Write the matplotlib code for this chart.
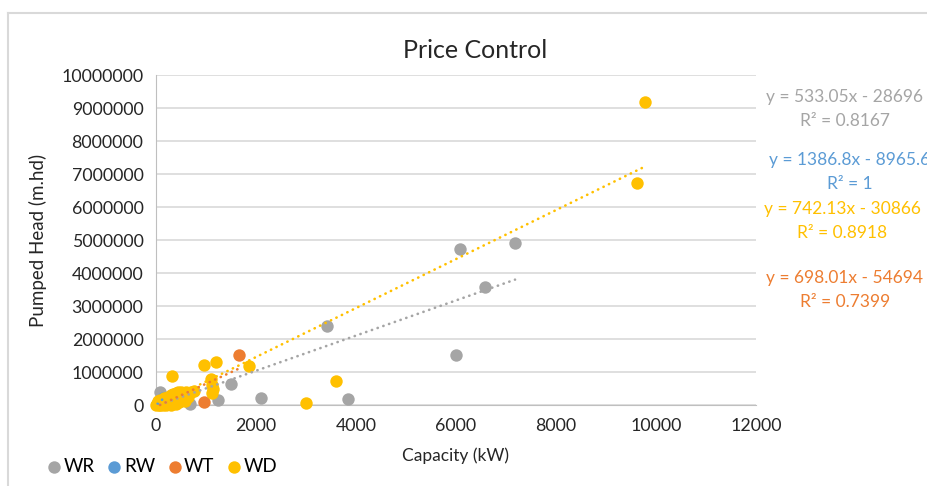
import matplotlib
matplotlib.use("Agg")
import matplotlib.pyplot as plt
from matplotlib.lines import Line2D
import numpy as np

plt.rcParams['font.family'] = ['Lato', 'DejaVu Sans']

# Данные (кВт, м.напора)
wr_x = [80, 150, 300, 450, 680, 1250, 1500, 2100, 3430, 3850, 6000, 6080, 6580, 7180]
wr_y = [390000, 20000, 60000, 100000, 20000, 150000, 650000, 220000, 2400000, 190000,
        1520000, 4730000, 3570000, 4920000]

rw_x = [30, 150]
rw_y = [32000, 199000]

wt_x = [80, 200, 350, 960, 1660]
wt_y = [20000, 60000, 150000, 80000, 1520000]

wd_x = [10, 20, 40, 50, 60, 80, 90, 100, 120, 140, 150, 170, 180, 200, 210, 230, 250, 260,
        280, 300, 310, 320, 330, 350, 360, 380, 400, 410, 420, 450, 470, 480, 500, 520,
        550, 580, 600, 620, 650, 700, 760, 960, 1100, 1120, 1130, 1150, 1200,
        1870, 2990, 3600, 9620, 9780]
wd_y = [0, 20000, 120000, 50000, 0, 10000, 160000, 100000, 60000, 0, 150000, 220000, 30000,
        200000, 0, 120000, 250000, 40000, 80000, 300000, 0, 880000, 180000, 330000, 60000,
        250000, 350000, 20000, 150000, 380000, 100000, 300000, 400000, 200000, 330000,
        120000, 380000, 300000, 250000, 400000, 430000, 1210000, 790000, 620000, 350000,
        480000, 1300000, 1180000, 70000, 730000, 6730000, 9180000]

series_names = ['WR', 'RW', 'WT', 'WD']
series_x = [wr_x, rw_x, wt_x, wd_x]
series_y = [wr_y, rw_y, wt_y, wd_y]
colors = ['#A5A5A5', '#5B9BD5', '#ED7D31', '#FFC000']

# Коэффициенты линий тренда (с картинки)
trend_slope = [533.05, 1386.8, 698.01, 742.13]
trend_icpt = [-28696, -8965.6, -54694, -30866]
trend_eq = ['y = 533.05x - 28696', 'y = 1386.8x - 8965.6', 'y = 698.01x - 54694', 'y = 742.13x - 30866']
trend_r2 = ['R² = 0.8167', 'R² = 1', 'R² = 0.7399', 'R² = 0.8918']
label_pos = [(845, 97), (850, 160), (845, 278), (842, 209)]

W, H = 928, 486
fig = plt.figure(figsize=(W / 100, H / 100), dpi=100)
ax = fig.add_axes([156 / W, 1 - 405 / H, 600 / W, 330 / H])

for name, xs, ys, c in zip(series_names, series_x, series_y, colors):
    ax.scatter(xs, ys, s=80, color=c, label=name, zorder=3, linewidths=0, clip_on=False)

for xs, c, k, b in zip(series_x, colors, trend_slope, trend_icpt):
    tx = np.array([min(xs), max(xs)])
    ax.plot(tx, k * tx + b, color=c, lw=1.9, linestyle=(0, (0.1, 2.2)),
            dash_capstyle='round', zorder=4, clip_on=False)

ax.set_xlim(0, 12000)
ax.set_ylim(0, 10000000)
ax.set_xticks(np.arange(0, 12001, 2000))
ax.set_yticks(np.arange(0, 10000001, 1000000))
ax.yaxis.set_major_formatter(matplotlib.ticker.FuncFormatter(lambda v, p: '%d' % v))
ax.xaxis.set_major_formatter(matplotlib.ticker.FuncFormatter(lambda v, p: '%d' % v))
ax.tick_params(length=0, labelsize=12.8, colors='#262626', pad=9)
ax.grid(axis='y', color='#D9D9D9', lw=1.2)
ax.set_axisbelow(True)
for s in ['top', 'right']:
    ax.spines[s].set_visible(False)
ax.spines['left'].set_color('#BFBFBF')
ax.spines['bottom'].set_color('#BFBFBF')

ax.set_xlabel('Capacity (kW)', fontsize=12.5, color='#262626', labelpad=10)
ax.set_ylabel('Pumped Head (m.hd)', fontsize=13.5, color='#262626', labelpad=10)
fig.text(475 / W, 1 - 51 / H, 'Price Control', fontsize=18, color='#262626',
         ha='center', va='center')

for (px, py), eq, r2, c in zip(label_pos, trend_eq, trend_r2, colors):
    fig.text(px / W, 1 - py / H, eq, fontsize=12.5, color=c, ha='center', va='center')
    fig.text(px / W, 1 - (py + 24) / H, r2, fontsize=12.5, color=c, ha='center', va='center')

ax.legend(loc='center left', bbox_to_anchor=(28 / W, 1 - 466 / H), bbox_transform=fig.transFigure,
          ncol=4, frameon=False, fontsize=13.5, handletextpad=0.0, columnspacing=0.55,
          markerscale=1.0, handlelength=1.0)

# рамка области диаграммы
fig.add_artist(Line2D([8 / W, 8 / W], [0, 1 - 13 / H], color='#D9D9D9', lw=1.5))
fig.add_artist(Line2D([8 / W, 1], [1 - 13 / H, 1 - 13 / H], color='#D9D9D9', lw=1.5))

fig.savefig('out.png', dpi=100)
